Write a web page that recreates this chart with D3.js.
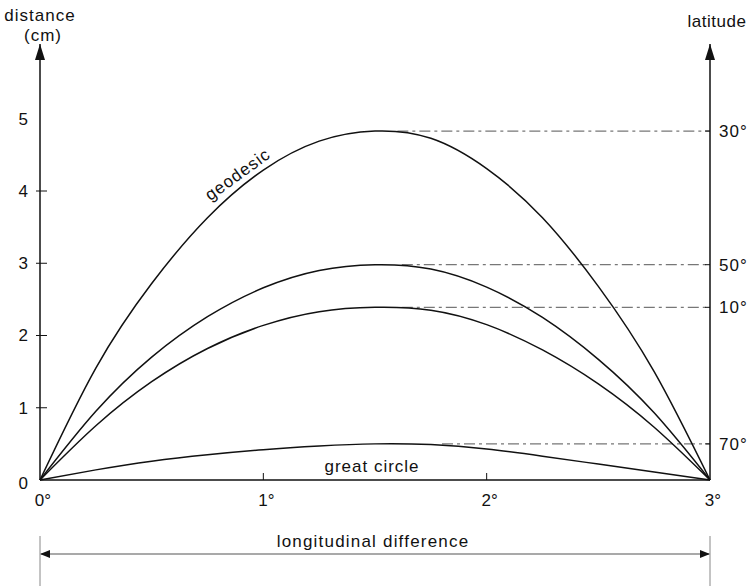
<!DOCTYPE html>
<html>
<head>
<meta charset="utf-8">
<script src="https://cdn.jsdelivr.net/npm/d3@7"></script>
<style>
  body { margin: 0; background: #fff; }
  text { font-family: "Liberation Sans", Arial, sans-serif; fill: #111; }
</style>
</head>
<body>
<div id="plot"></div>
<script>
// longitude steps (degrees) at which the curves were read
var longitudes = [0, 0.25, 0.5, 0.75, 1, 1.25, 1.5, 1.75, 2, 2.25, 2.5, 2.75, 3];

// distance (cm) between geodesic and great circle, one curve per latitude
var lat30 = [0, 1.55, 2.72, 3.63, 4.29, 4.69, 4.83, 4.73, 4.31, 3.63, 2.68, 1.5, 0];
var lat50 = [0, 0.95, 1.7, 2.26, 2.66, 2.9, 2.98, 2.92, 2.67, 2.25, 1.67, 0.93, 0];
var lat10 = [0, 0.75, 1.36, 1.82, 2.14, 2.33, 2.39, 2.35, 2.15, 1.8, 1.33, 0.73, 0];
var lat70 = [0, 0.14, 0.26, 0.35, 0.42, 0.47, 0.5, 0.49, 0.43, 0.33, 0.22, 0.11, 0];

// latitude markers on the right axis (label, peak value, longitude where the dashed line starts)
var latLabels = ["30°", "50°", "10°", "70°"];
var latPeaks = [4.83, 2.98, 2.39, 0.5];
var latStart = [1.6, 1.62, 1.62, 1.8];

var yTicks = [0, 1, 2, 3, 4, 5];
var xTicks = [0, 1, 2, 3];

var svg = d3.select("div#plot").append("svg")
    .attr("width", 750)
    .attr("height", 588);

var x = d3.scaleLinear().domain([0, 3]).range([40, 710]);
var y = d3.scaleLinear().domain([0, 4]).range([480, 191]);

// arrow markers
var defs = svg.append("defs");
defs.append("marker")
    .attr("id", "arrow")
    .attr("viewBox", "0 0 10 10")
    .attr("refX", 9).attr("refY", 5)
    .attr("markerWidth", 11).attr("markerHeight", 10)
    .attr("markerUnits", "userSpaceOnUse")
    .attr("orient", "auto-start-reverse")
  .append("path")
    .attr("d", "M0,1 L10,5 L0,9 Z")
    .attr("fill", "#111");
defs.append("marker")
    .attr("id", "arrowBig")
    .attr("viewBox", "0 0 16 10")
    .attr("refX", 16).attr("refY", 5)
    .attr("markerWidth", 16).attr("markerHeight", 11)
    .attr("markerUnits", "userSpaceOnUse")
    .attr("orient", "auto")
  .append("path")
    .attr("d", "M0,0 L16,5 L0,10 Z")
    .attr("fill", "#111");

// dashed latitude guides
svg.selectAll(".guide")
    .data(latLabels)
    .enter().append("line")
    .attr("class", "guide")
    .attr("x1", (d, i) => x(latStart[i]))
    .attr("x2", x(3))
    .attr("y1", (d, i) => y(latPeaks[i]))
    .attr("y2", (d, i) => y(latPeaks[i]))
    .attr("stroke", "#777")
    .attr("stroke-width", 1.2)
    .attr("stroke-dasharray", "11,4,3,4");

svg.selectAll(".latTick")
    .data(latLabels)
    .enter().append("line")
    .attr("x1", x(3) - 5).attr("x2", x(3))
    .attr("y1", (d, i) => y(latPeaks[i]))
    .attr("y2", (d, i) => y(latPeaks[i]))
    .attr("stroke", "#111");

svg.selectAll(".latLabel")
    .data(latLabels)
    .enter().append("text")
    .attr("x", x(3) + 9)
    .attr("y", (d, i) => y(latPeaks[i]))
    .attr("dy", ".36em")
    .style("font-size", "17px")
    .style("letter-spacing", "1px")
    .text(d => d);

// curves
var line = d3.line()
    .x((d, i) => x(longitudes[i]))
    .y(d => y(d))
    .curve(d3.curveNatural);

svg.selectAll(".curve")
    .data([lat30, lat50, lat10, lat70])
    .enter().append("path")
    .attr("class", "curve")
    .attr("d", line)
    .attr("fill", "none")
    .attr("stroke", "#111")
    .attr("stroke-width", 1.5);

// left axis
svg.append("line")
    .attr("x1", x(0)).attr("x2", x(0))
    .attr("y1", y(0)).attr("y2", 44)
    .attr("stroke", "#111").attr("stroke-width", 1.5)
    .attr("marker-end", "url(#arrowBig)");

svg.append("g")
    .attr("transform", "translate(" + x(0) + ",0)")
    .call(d3.axisLeft(y).tickValues(yTicks).tickSize(0).tickFormat(d3.format("d")))
    .call(g => g.select(".domain").remove())
    .call(g => g.selectAll("text")
        .attr("x", -12)
        .attr("dy", d => d === 0 ? "0.5em" : "0.32em")
        .attr("fill", "#111")
        .style("font-size", "17px")
        .style("font-family", "Liberation Sans, Arial, sans-serif"));

svg.selectAll(".yTick")
    .data(yTicks.slice(1, 5))
    .enter().append("line")
    .attr("x1", x(0) - 4).attr("x2", x(0) + 7)
    .attr("y1", d => y(d)).attr("y2", d => y(d))
    .attr("stroke", "#111");

svg.append("text")
    .attr("x", 40).attr("y", 21)
    .attr("text-anchor", "middle")
    .style("font-size", "17px")
    .style("letter-spacing", "1px")
    .text("distance");
svg.append("text")
    .attr("x", 43).attr("y", 41)
    .attr("text-anchor", "middle")
    .style("font-size", "17px")
    .style("letter-spacing", "1px")
    .text("(cm)");

// right axis
svg.append("line")
    .attr("x1", x(3)).attr("x2", x(3))
    .attr("y1", y(0)).attr("y2", 44)
    .attr("stroke", "#111").attr("stroke-width", 1.5)
    .attr("marker-end", "url(#arrowBig)");

svg.append("text")
    .attr("x", 717).attr("y", 27)
    .attr("text-anchor", "middle")
    .style("font-size", "17px")
    .style("letter-spacing", "0.5px")
    .text("latitude");

// bottom axis
svg.append("line")
    .attr("x1", x(0)).attr("x2", x(3))
    .attr("y1", y(0)).attr("y2", y(0))
    .attr("stroke", "#111").attr("stroke-width", 1.5);

svg.selectAll(".xTick")
    .data(xTicks.slice(1, 3))
    .enter().append("line")
    .attr("x1", d => x(d)).attr("x2", d => x(d))
    .attr("y1", y(0)).attr("y2", y(0) - 7)
    .attr("stroke", "#111");

svg.selectAll(".xLabel")
    .data(xTicks)
    .enter().append("text")
    .attr("x", d => x(d) + 3)
    .attr("y", 506)
    .attr("text-anchor", "middle")
    .style("font-size", "17px")
    .text(d => d + "°");

// curve labels
svg.append("text")
    .attr("transform", "translate(241,179) rotate(-36)")
    .attr("text-anchor", "middle")
    .style("font-size", "17px")
    .style("letter-spacing", "1px")
    .text("geodesic");

svg.append("text")
    .attr("x", 372).attr("y", 472)
    .attr("text-anchor", "middle")
    .style("font-size", "17px")
    .style("letter-spacing", "1px")
    .text("great circle");

// longitudinal difference dimension
svg.selectAll(".dimEnd")
    .data([0, 3])
    .enter().append("line")
    .attr("x1", d => x(d)).attr("x2", d => x(d))
    .attr("y1", 536).attr("y2", 586)
    .attr("stroke", "#888");

svg.append("line")
    .attr("x1", x(0) + 1).attr("x2", x(3) - 1)
    .attr("y1", 554).attr("y2", 554)
    .attr("stroke", "#555")
    .attr("stroke-width", 1.2)
    .attr("marker-start", "url(#arrow)")
    .attr("marker-end", "url(#arrow)");

svg.append("text")
    .attr("x", 373).attr("y", 547)
    .attr("text-anchor", "middle")
    .style("font-size", "17px")
    .style("letter-spacing", "1.2px")
    .text("longitudinal difference");
</script>
</body>
</html>
